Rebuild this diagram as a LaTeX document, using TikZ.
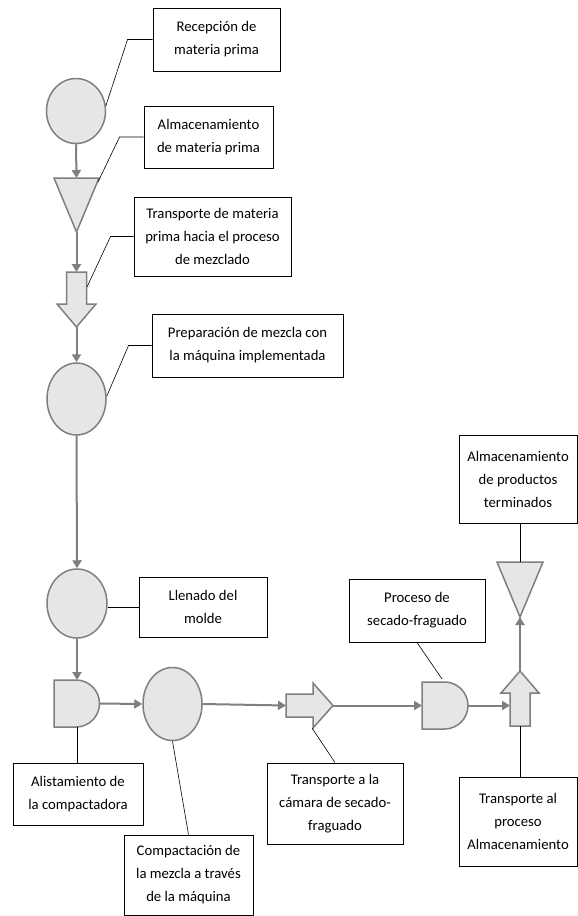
\documentclass[tikz,border=0pt]{standalone}
\usepackage{fontspec}
\setmainfont{Carlito}
\usetikzlibrary{shapes.geometric,arrows.meta}
\definecolor{shpfill}{HTML}{E6E6E6}
\definecolor{shpline}{HTML}{7F7F7F}
\begin{document}
\begin{tikzpicture}[x=1pt,y=-1pt,
  shp/.style={draw=shpline,fill=shpfill,line width=1.5pt,line join=miter},
  oval/.style={shp,ellipse,inner sep=0pt},
  flow/.style={draw=shpline,line width=2pt,-{Triangle[length=8pt,width=9pt]}},
  lead/.style={draw=black,line width=0.6pt},
  lbl/.style={draw=black,line width=0.9pt,fill=white,align=center,inner sep=0pt,
    font=\fontsize{14.7pt}{23pt}\selectfont}]
\fill[white] (0,0) rectangle (578,916);
\useasboundingbox (0,0) rectangle (578,916);

% ---- process symbols ----
\node[oval,minimum width=59pt,minimum height=65pt] (c1) at (76,111) {};
\draw[shp] (54,178) -- (99,178) -- (76.5,232) -- cycle;
\coordinate (t1top) at (76.5,178);
\coordinate (t1tip) at (76.5,232);
\coordinate (t1r) at (98,182);

\draw[shp] (66.5,272) -- (86.5,272) -- (86.5,304) -- (96,304) -- (76.5,327) -- (57,304) -- (66.5,304) -- cycle;
\coordinate (a1top) at (76.5,272);
\coordinate (a1tip) at (76.5,327);
\coordinate (a1r) at (87,287);

\node[oval,minimum width=59pt,minimum height=72pt] (c2) at (76.5,399) {};
\node[oval,minimum width=60pt,minimum height=69pt] (c3) at (77,603.5) {};

\draw[shp] (54,680) -- (76,680) arc[start angle=90,end angle=-90,radius=23.5pt] -- (54,727) -- cycle;
\coordinate (d1top) at (77,680);
\coordinate (d1r) at (99.5,703.5);
\coordinate (d1bot) at (77,727);

\node[oval,minimum width=59pt,minimum height=73pt] (c4) at (172.5,704) {};

\draw[shp] (286,694) -- (313,694) -- (313,683) -- (333,705.5) -- (313,728) -- (313,717) -- (286,717) -- cycle;
\coordinate (r2l) at (286,705.5);
\coordinate (r2tip) at (333,705.5);
\coordinate (r2b) at (312,728);

\draw[shp] (422,682) -- (444.5,682) arc[start angle=90,end angle=-90,radius=23.5pt] -- (422,729) -- cycle;
\coordinate (d2l) at (422,705.5);
\coordinate (d2r) at (468,705.5);
\coordinate (d2top) at (442,679);

\draw[shp] (520,671) -- (539,693) -- (530,693) -- (530,726) -- (510,726) -- (510,693) -- (501,693) -- cycle;
\coordinate (u1l) at (510,705.5);
\coordinate (u1tip) at (520,671);
\coordinate (u1bot) at (520,726);

\draw[shp] (497,562) -- (543,562) -- (520,617) -- cycle;
\coordinate (t2top) at (520,562);
\coordinate (t2tip) at (520,617);

% ---- labels ----
\node[lbl,minimum width=127pt,minimum height=63pt] (b1) at (216.5,39.5) {Recepción de\\materia prima};
\node[lbl,minimum width=129pt,minimum height=62pt] (b2) at (208.5,137) {Almacenamiento\\de materia prima};
\node[lbl,minimum width=157pt,minimum height=79pt] (b3) at (212.5,236.5) {Transporte de materia\\prima hacia el proceso\\de mezclado};
\node[lbl,minimum width=191pt,minimum height=63pt] (b4) at (247.5,345.5) {Preparación de mezcla con\\la máquina implementada};
\node[lbl,minimum width=128pt,minimum height=60pt] (b5) at (203,607) {Llenado del\\molde};
\node[lbl,minimum width=136pt,minimum height=63pt] (b6) at (417,610.5) {Proceso de\\secado-fraguado};
\node[lbl,minimum width=118pt,minimum height=88pt] (b7) at (518,479) {Almacenamiento\\de productos\\terminados};
\node[lbl,minimum width=136pt,minimum height=81pt] (b8) at (335,803.5) {Transporte a la\\cámara de secado-\\fraguado};
\node[lbl,minimum width=118pt,minimum height=89pt] (b9) at (518,821.5) {Transporte al\\proceso\\Almacenamiento};
\node[lbl,minimum width=130pt,minimum height=62pt] (b10) at (78,794) {Alistamiento de\\la compactadora};
\node[lbl,minimum width=129pt,minimum height=80pt] (b11) at (188.5,875) {Compactación de\\la mezcla a través\\de la máquina};

% ---- flow arrows ----
\draw[flow] (c1.south) -- (t1top);
\draw[flow] (t1tip) -- (a1top);
\draw[flow] (a1tip) -- (c2.north);
\draw[flow] (c2.south) -- (c3.north);
\draw[flow] (c3.south) -- (d1top);
\draw[flow] (d1r) -- (c4.west);
\draw[flow] (c4.east) -- (r2l);
\draw[flow] (r2tip) -- (d2l);
\draw[flow] (d2r) -- (u1l);
\draw[flow] (u1tip) -- (t2tip);

% ---- leader lines ----
\draw[lead] (b1.west) -- ++(-25,0) -- (c1.10);
\draw[lead] (b2.west) -- ++(-24,0) -- (t1r);
\draw[lead] (b3.west) -- ++(-23,0) -- (a1r);
\draw[lead] (b4.west) -- ++(-23,0) -- (c2.5);
\draw[lead] (b5.west) -- (b5.west -| c3.east);
\draw[lead] (d1bot) -- (d1bot |- b10.north);
\draw[lead] (c4.south) -- (b11.north);
\draw[lead] (b6.south) -- (d2top);
\draw[lead] (t2top |- b7.south) -- (t2top);
\draw[lead] (b8.north) -- (r2b);
\draw[lead] (u1bot) -- (u1bot |- b9.north);
\end{tikzpicture}
\end{document}
